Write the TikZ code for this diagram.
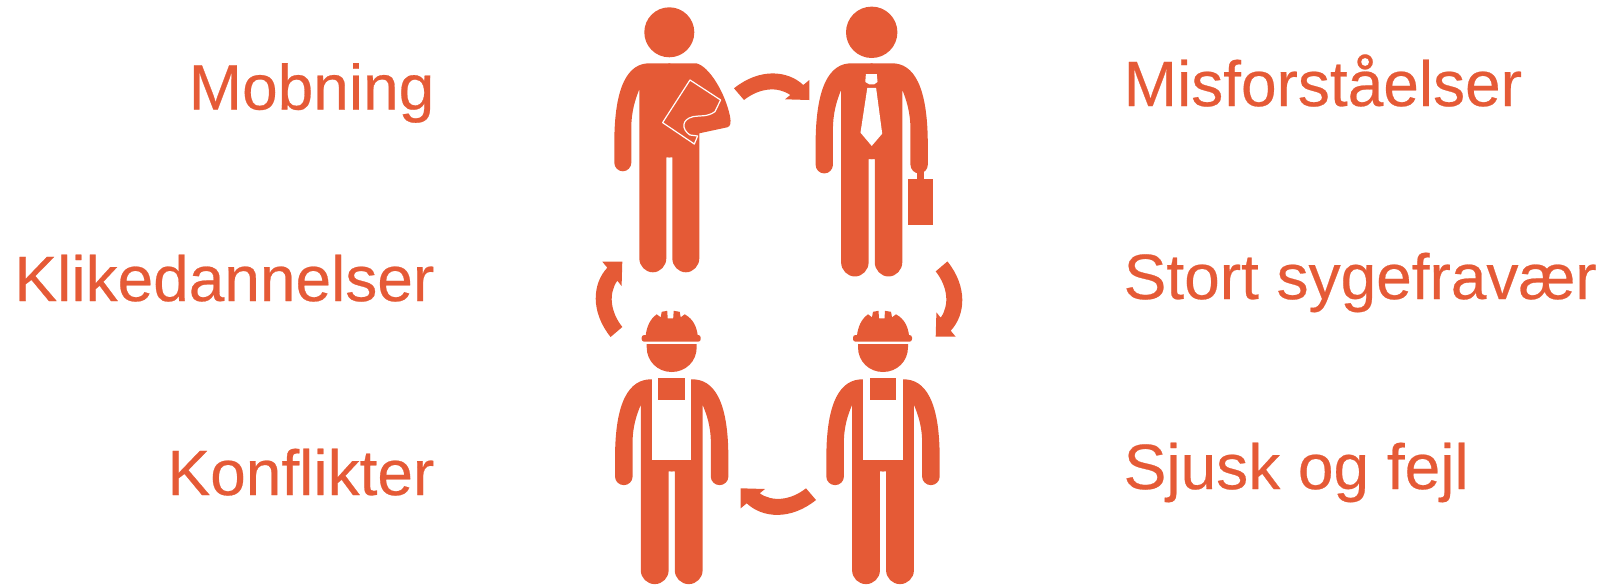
\documentclass[tikz,border=0pt]{standalone}
\usepackage{fontspec}
\setmainfont{Liberation Sans}[FakeBold=0.4]
\usepackage{xcolor}
\definecolor{warnorange}{HTML}{E55A36}
\newcommand{\halfbody}{%
  \fill[solid] (1,0) -- (-20,0) .. controls (-41,0) and (-55,22) .. (-55,80) -- (-55,99.5)
    .. controls (-55,104) and (-51.2,108) .. (-46.5,108) .. controls (-41.8,108) and (-38,104) .. (-38,99.5)
    -- (-38,65) .. controls (-38,48) and (-34,36) .. (-30,26) -- (-30,195)
    .. controls (-30,202.5) and (-24,209) .. (-16.5,209) .. controls (-9,209) and (-3,202.5) .. (-3,195)
    -- (-3,94) -- (1,94) -- cycle;
}
\tikzset{
  issue/.style={text=warnorange,font=\fontsize{64}{64}\selectfont,inner sep=0pt},
  issueleft/.style={issue,anchor=base east},
  issueright/.style={issue,anchor=base west},
  solid/.style={fill=warnorange,draw=none},
  cutout/.style={fill=white,draw=none},
  pics/turnarrow/.style={code={
    \fill[solid] (-75.3,-11.7) .. controls (-50,-32) and (-22,-30) .. (-6,-15) -- (0,-20) -- (0,0)
      -- (-24.3,-0.7) -- (-19,-5) .. controls (-32,-14) and (-50,-12) .. (-65.3,0) -- cycle;
  }},
  pics/workerman/.style={code={
    \begin{scope}[xscale=1.03,yscale=.98]
      \halfbody
      \begin{scope}[xscale=-1] \halfbody \end{scope}
    \end{scope}
    \fill[cutout] (-20,-1) rectangle (19.5,80.7);
    \fill[solid] (-13.3,-1) rectangle (13.3,20.7);
    \fill[solid] (-25,-35.3) -- (25,-35.3) -- (25,-32) .. controls (25,-18) and (14,-7.3) .. (0,-7.3)
      .. controls (-14,-7.3) and (-25,-18) .. (-25,-32) -- cycle;
    \fill[solid] (-26,-44) .. controls (-25,-52) and (-22,-60) .. (-15,-65) -- (-11,-62) -- (-10,-67.5)
      -- (-4.5,-68.5) -- (-4,-61) -- (1.5,-61) -- (2,-68.5) -- (8,-67.5) -- (9,-62) -- (13,-65)
      .. controls (22,-60) and (25,-52) .. (26,-44) -- cycle;
    \fill[solid,rounded corners=2.5pt] (-30,-44.3) rectangle (29,-37.6);
  }}
}
\begin{document}
\begin{tikzpicture}[x=1pt,y=-1pt]
\useasboundingbox (0,0) rectangle (1606,587);
% labels
\node[issueleft] (mobning) at (434.5,109.5) {Mobning};
\node[issueleft] (klike) at (434.5,301) {Klikedannelser};
\node[issueleft] (konflikter) at (434.5,495) {Konflikter};
\node[issueright] (misforstaa) at (1123.5,106) {Misforståelser};
\node[issueright] (sygefravaer) at (1123.5,299) {Stort sygefravær};
\node[issueright] (sjusk) at (1123.5,489) {Sjusk og fejl};
% man with folder
\fill[solid] (669.3,32.3) circle[radius=25];
\begin{scope}[shift={(669.3,63.3)}]
  \halfbody
  \fill[solid] (-1,0) -- (27,0) .. controls (40,3) and (56,30) .. (60.7,53)
    .. controls (62,60) and (61,63) .. (58,64) -- (30,70) -- (30,195)
    .. controls (30,202.5) and (24,209) .. (16.5,209) .. controls (9,209) and (3,202.5) .. (3,195)
    -- (3,94) -- (-1,94) -- cycle;
  \draw[white,line width=1.2pt,line join=round] (20.7,16.7) -- (51.3,36.7) -- (45.7,48.3)
    .. controls (38,54) and (30,52) .. (24,53.3) .. controls (12,56) and (12,66) .. (20.7,71.7)
    -- (28.3,72.7) -- (25,80.7) -- (-6.7,59.3) -- cycle;
\end{scope}
% man with briefcase
\fill[solid] (871.7,32.3) circle[radius=25.7];
\begin{scope}[shift={(871.7,63.3)},xscale=1.02,yscale=1.02]
  \halfbody
  \begin{scope}[xscale=-1] \halfbody \end{scope}
  \fill[cutout] (-5.7,10.7) -- (5,10.7) -- (5.7,18.3) -- (2.3,20.7) -- (-2.3,20.7) -- (-6.3,18.3) -- cycle;
  \fill[cutout] (-4.3,24) -- (4.3,24) -- (10.3,69) -- (0,81) -- (-11,68) -- cycle;
  \fill[solid] (36,113.5) rectangle (59.7,159);
  \fill[solid] (44.3,103) rectangle (51,114);
\end{scope}
% workers
\pic at (671.7,379.3) {workerman};
\pic at (883,379.3) {workerman};
% arrows between the figures
\pic at (809.3,100) {turnarrow};
\pic[rotate=180] at (740.7,488.3) {turnarrow};
\pic[rotate=90] at (622.3,261.7) {turnarrow};
\pic[rotate=-90] at (935.7,336.7) {turnarrow};
\end{tikzpicture}
\end{document}
